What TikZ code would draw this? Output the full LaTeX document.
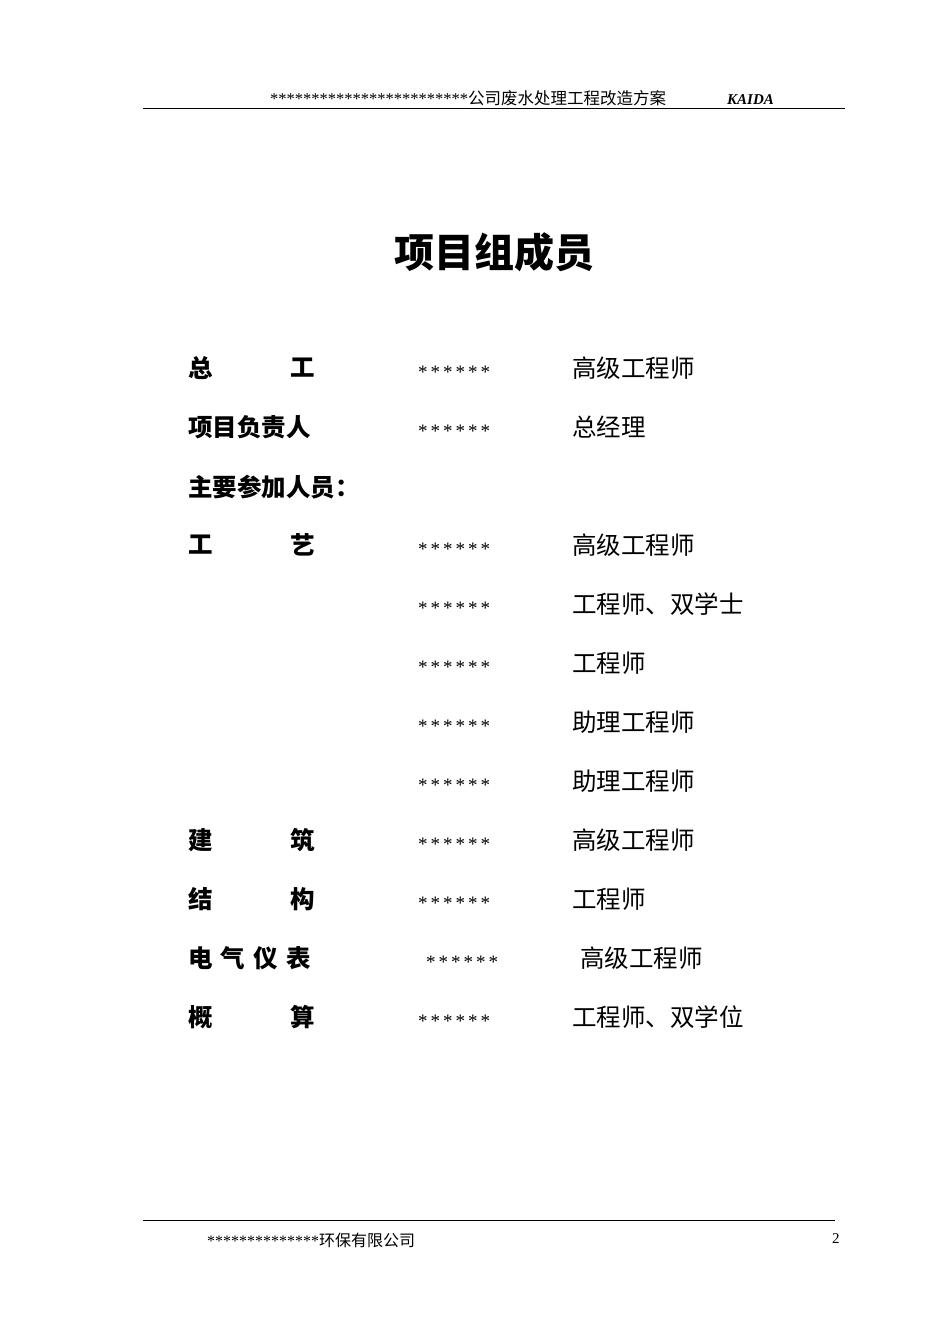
\documentclass[tikz,border=0pt]{standalone}
\usepackage{fontspec}
\setmainfont{Liberation Serif}
\newfontfamily\cjk{Noto Sans CJK SC}
\begin{document}
\begin{tikzpicture}[x=1pt,y=-1pt,
  lab/.style={anchor=west,inner sep=0pt,font=\cjk\bfseries\fontsize{24.5}{24}\selectfont},
  star/.style={anchor=west,inner sep=0pt,font=\fontsize{19}{19}\selectfont},
  ttl/.style={anchor=west,inner sep=0pt,font=\cjk\fontsize{24.5}{24}\selectfont}]
\useasboundingbox[fill=white] (0,0) rectangle (950,1344);
\node[inner sep=0pt,anchor=base west,font=\cjk\fontsize{16.5}{16}\selectfont] (h1) at (270,104) {\fontspec{Liberation Serif}************************\cjk 公司废水处理工程改造方案};
\node[inner sep=0pt,anchor=base west,font=\bfseries\itshape\fontsize{15}{15}\selectfont] (h2) at (727,104) {KAIDA};
\draw[line width=1pt] (143,108) -- (845,108);
\node[inner sep=0pt,font=\cjk\bfseries\fontsize{40}{40}\selectfont] (t) at (494,252) {项目组成员};
\node[lab] (l1) at (188,368) {总};
\node[lab] (l1b) at (290,368) {工};
\node[lab] (l2) at (188,427) {项目负责人};
\node[lab] (l3) at (188,487) {主要参加人员：};
\node[lab] (l4) at (188,545) {工};
\node[lab] (l4b) at (290,545) {艺};
\node[lab] (l9) at (188,840) {建};
\node[lab] (l9b) at (290,840) {筑};
\node[lab] (l10) at (188,899) {结};
\node[lab] (l10b) at (290,899) {构};
\node[lab] (l11) at (188,958) {电\,\,气\,\,仪\,\,表};
\node[lab] (l12) at (188,1017) {概};
\node[lab] (l12b) at (290,1017) {算};
\foreach \y/\t/\dx [count=\i] in {368/高级工程师/0,427/总经理/0,545/高级工程师/0,604/工程师、双学士/0,663/工程师/0,722/助理工程师/0,781/助理工程师/0,840/高级工程师/0,899/工程师/0,958/高级工程师/8,1017/工程师、双学位/0}{
  \node[star] (s\i) at (418+\dx,\y+4) {*\kern3pt*\kern3pt*\kern3pt*\kern3pt*\kern3pt*};
  \node[ttl] (r\i) at (572+\dx,\y) {\t};
}
\draw[line width=1pt] (143,1220) -- (835,1220);
\node[inner sep=0pt,anchor=base west,font=\fontsize{16}{16}\selectfont] (f1) at (207,1246) {**************\cjk 环保有限公司};
\node[inner sep=0pt,anchor=base west,font=\fontsize{15}{15}\selectfont] (f2) at (832,1243) {2};
\end{tikzpicture}
\end{document}
